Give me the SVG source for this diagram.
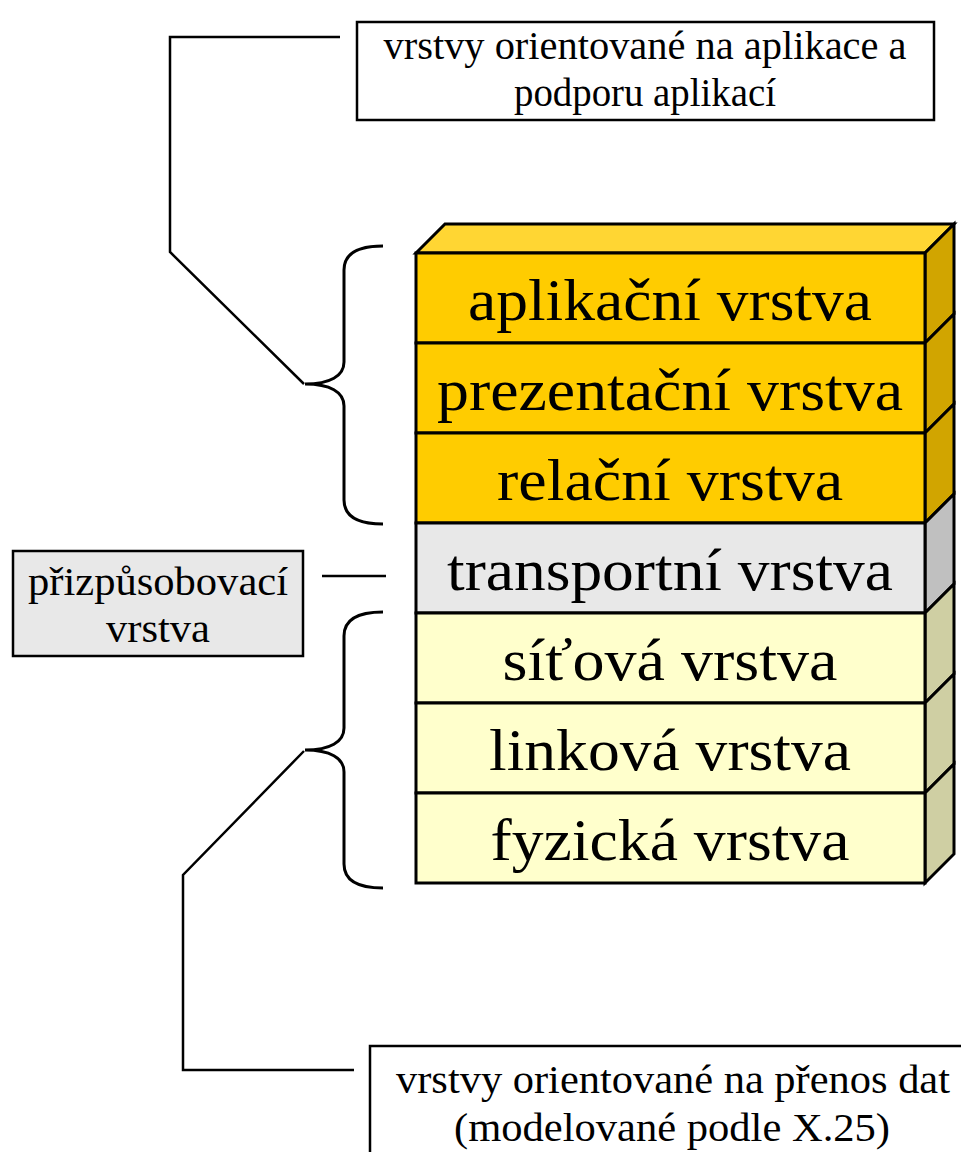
<svg xmlns="http://www.w3.org/2000/svg" width="961" height="1152" viewBox="0 0 961 1152">
<style>
.ln{fill:none;stroke:#000;stroke-width:2.5;stroke-linejoin:miter}
.br{fill:none;stroke:#000;stroke-width:3}
.lay{stroke:#000;stroke-width:3;stroke-linejoin:miter}
.big{font-family:"Liberation Serif","Times New Roman",serif;font-size:60px;fill:#000;text-anchor:middle}
.sm{font-family:"Liberation Serif","Times New Roman",serif;font-size:41px;fill:#000;text-anchor:middle}
.gold{fill:#FFCC00}.goldS{fill:#D1A500}.goldT{fill:#FFD633}
.gray{fill:#E8E8E8}.grayS{fill:#C0C0C0}
.yel{fill:#FFFFCC}.yelS{fill:#CFCFA3}
.box{stroke:#000;stroke-width:2.5}
</style>
<rect width="961" height="1152" fill="#fff"/>
<g id="connectors">
<polyline class="ln" points="340,37 170,37 170,252 304,384"/>
<line class="ln" x1="322" y1="576" x2="386" y2="576"/>
<polyline class="ln" points="304,751 183,875 183,1070 354,1070"/>
<path class="br" d="M383,246 C358,246 344,254 344,270 L344,362 C344,376 330,384 305,384 C330,384 344,392 344,406 L344,500 C344,516 358,524 383,524"/>
<path class="br" d="M383,612 C358,612 344,620 344,636 L344,728 C344,742 330,750 305,750 C330,750 344,758 344,772 L344,864 C344,880 358,888 383,888"/>
</g>
<g id="stack-top">
<polygon class="lay goldT" points="416,253 445,224 954,224 925,253"/>
</g>
<g id="layer-aplikacni">
<polygon class="lay goldS" points="925,253 954,224 954,314 925,343"/>
<rect class="lay gold" x="416" y="253" width="509" height="90"/>
<text class="big" x="670" y="320" textLength="404" lengthAdjust="spacingAndGlyphs">aplikační vrstva</text>
</g>
<g id="layer-prezentacni">
<polygon class="lay goldS" points="925,343 954,314 954,404 925,433"/>
<rect class="lay gold" x="416" y="343" width="509" height="90"/>
<text class="big" x="670" y="410" textLength="466" lengthAdjust="spacingAndGlyphs">prezentační vrstva</text>
</g>
<g id="layer-relacni">
<polygon class="lay goldS" points="925,433 954,404 954,494 925,523"/>
<rect class="lay gold" x="416" y="433" width="509" height="90"/>
<text class="big" x="670" y="500" textLength="346" lengthAdjust="spacingAndGlyphs">relační vrstva</text>
</g>
<g id="layer-transportni">
<polygon class="lay grayS" points="925,523 954,494 954,584 925,613"/>
<rect class="lay gray" x="416" y="523" width="509" height="90"/>
<text class="big" x="670" y="590" textLength="446" lengthAdjust="spacingAndGlyphs">transportní vrstva</text>
</g>
<g id="layer-sitova">
<polygon class="lay yelS" points="925,613 954,584 954,674 925,703"/>
<rect class="lay yel" x="416" y="613" width="509" height="90"/>
<text class="big" x="670" y="680" textLength="335" lengthAdjust="spacingAndGlyphs">síťová vrstva</text>
</g>
<g id="layer-linkova">
<polygon class="lay yelS" points="925,703 954,674 954,764 925,793"/>
<rect class="lay yel" x="416" y="703" width="509" height="90"/>
<text class="big" x="670" y="770" textLength="362" lengthAdjust="spacingAndGlyphs">linková vrstva</text>
</g>
<g id="layer-fyzicka">
<polygon class="lay yelS" points="925,793 954,764 954,854 925,883"/>
<rect class="lay yel" x="416" y="793" width="509" height="90"/>
<text class="big" x="670" y="860" textLength="359" lengthAdjust="spacingAndGlyphs">fyzická vrstva</text>
</g>
<g id="box-aplikace">
<rect class="box" x="357" y="22" width="577" height="98" fill="#fff"/>
<text class="sm" x="645" y="59" textLength="523" lengthAdjust="spacingAndGlyphs">vrstvy orientované na aplikace a</text>
<text class="sm" x="645" y="106" textLength="262" lengthAdjust="spacingAndGlyphs">podporu aplikací</text>
</g>
<g id="box-prizpusobovaci">
<rect class="box" x="13" y="551" width="290" height="105" fill="#E8E8E8"/>
<text class="sm" x="158" y="595" textLength="260" lengthAdjust="spacingAndGlyphs">přizpůsobovací</text>
<text class="sm" x="158" y="642" textLength="104" lengthAdjust="spacingAndGlyphs">vrstva</text>
</g>
<g id="box-prenos">
<rect class="box" x="370" y="1046" width="620" height="130" fill="#fff"/>
<text class="sm" x="673" y="1093" textLength="554" lengthAdjust="spacingAndGlyphs">vrstvy orientované na přenos dat</text>
<text class="sm" x="672" y="1141" textLength="436" lengthAdjust="spacingAndGlyphs">(modelované podle X.25)</text>
</g>
</svg>
